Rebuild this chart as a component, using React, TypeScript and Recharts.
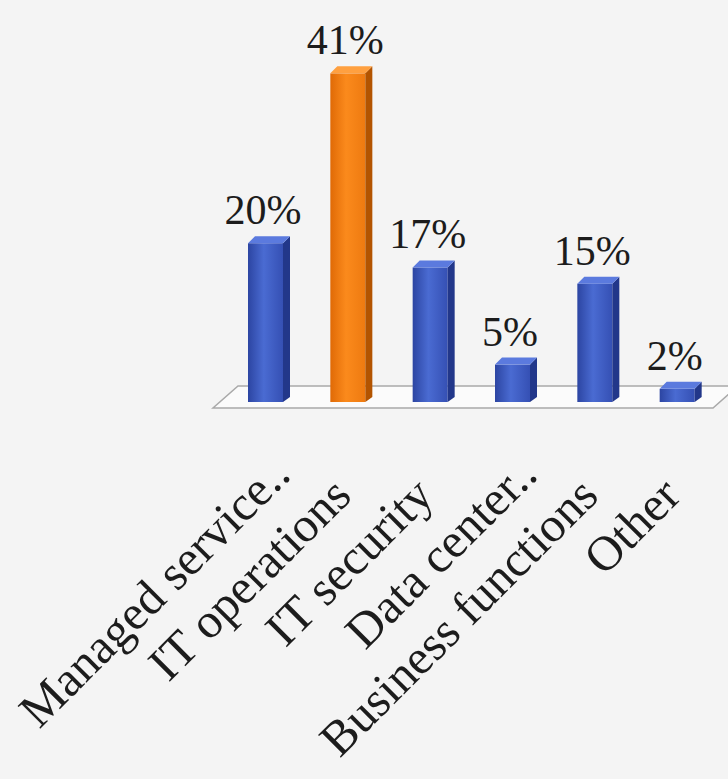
import { BarChart, Bar, XAxis, YAxis, Cell, LabelList, ReferenceLine } from 'recharts';

const categories = ['Managed service..', 'IT operations', 'IT security', 'Data center..', 'Business functions', 'Other'];
const shares = [20, 41, 17, 5, 15, 2];
const barColors = ['blue', 'orange', 'blue', 'blue', 'blue', 'blue'];

const data = categories.map((name, i) => ({ name, value: shares[i], color: barColors[i] }));

const FONT = "'Liberation Serif', 'DejaVu Serif', serif";

const palette: Record<string, { side: string; top: string; grad: string }> = {
  blue: { side: '#22378a', top: '#5b7ade', grad: 'url(#gBlue)' },
  orange: { side: '#b35400', top: '#ffa040', grad: 'url(#gOrange)' },
};

function Bar3D(props: any) {
  const { x, y, width, height, fill } = props;
  const p = palette[fill] || palette.blue;
  const d = 7;
  const fw = width - d;
  return (
    <g>
      <rect x={x} y={y + 3} width={fw} height={height - 3} fill={p.grad} />
      <polygon
        points={`${x + fw},${y + 3} ${x + width},${y - 4} ${x + width},${y + height - 5} ${x + fw},${y + height}`}
        fill={p.side}
      />
      <polygon points={`${x},${y + 3} ${x + fw},${y + 3} ${x + width},${y - 4} ${x + d},${y - 4}`} fill={p.top} />
    </g>
  );
}

function Floor(props: any) {
  const { x1, x2, y1 } = props;
  const front = y1 + 6;
  const back = y1 - 16;
  return (
    <polygon
      points={`${x1 - 15},${front} ${x2 - 9},${front} ${x2 + 16},${back} ${x1 + 10},${back}`}
      fill="#fbfbfb"
      stroke="#a9a9a9"
      strokeWidth={1.5}
    />
  );
}

function SlantTick(props: any) {
  const { x, y, payload } = props;
  // truncated labels sit a bit further up the slant in the original
  const dx = String(payload.value).endsWith('..') ? 30 : 0;
  return (
    <g transform={`translate(${x + 2},${y + 88}) rotate(-45)`}>
      <text x={dx} y={0} textAnchor="end" fontSize={49} fontFamily={FONT} fill="#1c1c1c">
        {payload.value}
      </text>
    </g>
  );
}

function ValueLabel(props: any) {
  const { x, y, width, value } = props;
  return (
    <text x={x + width / 2 - 6} y={y - 16} textAnchor="middle" fontSize={42} fontFamily={FONT} fill="#1c1c1c">
      {value}%
    </text>
  );
}

export default function App() {
  return (
    <div style={{ width: 728, height: 779, background: '#f4f4f4' }}>
      <style>{'body{margin:0;background:#f4f4f4}'}</style>
      <BarChart width={728} height={779} data={data} margin={{ top: 38, right: 6, bottom: 0, left: 228 }}>
        <defs>
          <linearGradient id="gBlue" x1="0" y1="0" x2="1" y2="0">
            <stop offset="0%" stopColor="#2c45a2" />
            <stop offset="45%" stopColor="#4a6bd2" />
            <stop offset="100%" stopColor="#3550b4" />
          </linearGradient>
          <linearGradient id="gOrange" x1="0" y1="0" x2="1" y2="0">
            <stop offset="0%" stopColor="#e06a06" />
            <stop offset="45%" stopColor="#fb8a1c" />
            <stop offset="100%" stopColor="#ee7a10" />
          </linearGradient>
        </defs>
        <ReferenceLine y={0} zIndex={-10} shape={Floor} />
        <XAxis dataKey="name" axisLine={false} tickLine={false} height={377} interval={0} tick={SlantTick} />
        <YAxis hide domain={[0, 45]} />
        <Bar dataKey="value" barSize={42} shape={Bar3D} isAnimationActive={false}>
          {data.map((d) => (
            <Cell key={d.name} fill={d.color} />
          ))}
          <LabelList dataKey="value" content={ValueLabel} />
        </Bar>
      </BarChart>
    </div>
  );
}
